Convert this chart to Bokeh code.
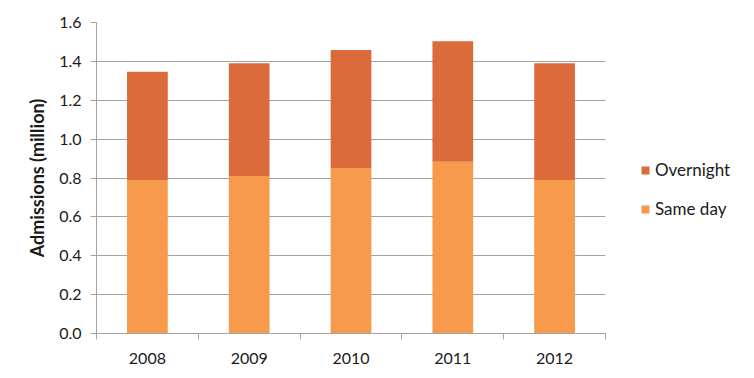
import numpy as np
from bokeh.plotting import figure
from bokeh.models import Range1d, FixedTicker, NumeralTickFormatter, Legend, LegendItem
from bokeh.embed import file_html
from bokeh.resources import INLINE

years = ["2008", "2009", "2010", "2011", "2012"]
same_day = [0.79, 0.81, 0.852, 0.883, 0.79]
overnight = [0.557, 0.58, 0.607, 0.62, 0.60]
y_ticks = [0.0, 0.2, 0.4, 0.6, 0.8, 1.0, 1.2, 1.4, 1.6]

FONT = "Lato"
TXT = "#1a1a1a"
GRID = "#a3a3a3"

xs = np.arange(len(years)) + 0.5
data = dict(x=xs, same=same_day, over=overnight)

p = figure(frame_width=509, frame_height=311, output_backend="svg", toolbar_location=None,
           x_range=Range1d(0, len(years)), y_range=Range1d(0, 1.6),
           min_border_left=96, min_border_right=149, min_border_top=22, min_border_bottom=45)
p.outline_line_color = None

r = p.vbar_stack(["same", "over"], x="x", width=0.4, source=data,
                 color=["#f79a4b", "#db6b3b"], line_color=None)

# axes
p.xaxis.ticker = FixedTicker(ticks=list(xs), minor_ticks=list(range(len(years) + 1)))
p.xaxis.major_label_overrides = {float(x): y for x, y in zip(xs, years)}
p.xaxis.major_tick_line_color = None
p.xaxis.major_tick_out = 0
p.xaxis.minor_tick_out = 6
p.xaxis.minor_tick_in = 0
p.xaxis.minor_tick_line_color = GRID
p.xaxis.axis_line_color = GRID
p.xaxis.major_label_standoff = 13
p.xgrid.grid_line_color = None

p.yaxis.ticker = FixedTicker(ticks=y_ticks)
p.yaxis.formatter = NumeralTickFormatter(format="0.0")
p.yaxis.major_tick_out = 6
p.yaxis.major_tick_in = 0
p.yaxis.minor_tick_line_color = None
p.yaxis.major_tick_line_color = GRID
p.yaxis.axis_line_color = GRID
p.yaxis.major_label_standoff = 9
p.yaxis.axis_label = "Admissions (million)"
p.yaxis.axis_label_standoff = 8
p.yaxis.axis_label_text_font = FONT
p.yaxis.axis_label_text_font_style = "bold"
p.yaxis.axis_label_text_font_size = "18px"
p.yaxis.axis_label_text_color = TXT
p.ygrid.grid_line_color = GRID
p.ygrid.grid_line_width = 1

for ax in (p.xaxis, p.yaxis):
    ax.major_label_text_font = FONT
    ax.major_label_text_font_size = "16px"
    ax.major_label_text_color = TXT

legend = Legend(items=[LegendItem(label="Overnight", renderers=[r[1]]),
                       LegendItem(label="Same day", renderers=[r[0]])],
                location=(35, 114), border_line_color=None, background_fill_alpha=0,
                glyph_width=10, glyph_height=10, label_height=20, spacing=18,
                padding=0, margin=0, label_standoff=5,
                label_text_font=FONT, label_text_font_size="17px", label_text_color=TXT)
p.add_layout(legend, "right")

open("out.html", "w").write(file_html(p, INLINE))
